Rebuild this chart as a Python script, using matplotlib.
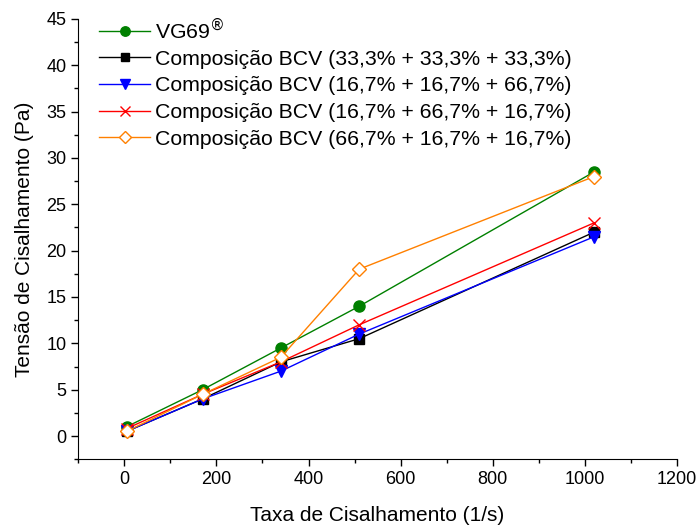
import numpy as np
import matplotlib
matplotlib.use('Agg')
import matplotlib.pyplot as plt
from matplotlib.ticker import MultipleLocator

plt.rcParams['font.family'] = ['Liberation Sans', 'DejaVu Sans']

# taxa de cisalhamento (1/s)
taxa = [5.1, 170, 340, 510, 1020]

# tensao de cisalhamento (Pa)
vg69 = [1.0, 5.0, 9.5, 14.0, 28.5]
bcv_33 = [0.5, 4.0, 8.0, 10.5, 22.0]
bcv_16_16_66 = [0.5, 4.0, 7.0, 11.0, 21.5]
bcv_16_66_16 = [0.8, 4.5, 8.0, 12.0, 23.0]
bcv_66_16_16 = [0.5, 4.5, 8.5, 18.0, 28.0]

labels = ['VG69$^{\\circledR}$',
          'Composição BCV (33,3% + 33,3% + 33,3%)',
          'Composição BCV (16,7% + 16,7% + 66,7%)',
          'Composição BCV (16,7% + 66,7% + 16,7%)',
          'Composição BCV (66,7% + 16,7% + 16,7%)']

fig = plt.figure(figsize=(6.98, 5.26), dpi=100)
ax = fig.add_axes([0.112, 0.127, 0.858, 0.837])

ax.plot(taxa, vg69, color='#008000', marker='o', ms=8, lw=1, label=labels[0])
ax.plot(taxa, bcv_33, color='black', marker='s', ms=7, lw=1, label=labels[1])
ax.plot(taxa, bcv_16_16_66, color='blue', marker='v', ms=9, lw=1, label=labels[2])
ax.plot(taxa, bcv_16_66_16, color='red', marker='x', ms=9, mew=1, lw=1, label=labels[3])
ax.plot(taxa, bcv_66_16_16, color='#ff8000', marker='D', ms=7, mfc='white',
        mew=1, lw=1, label=labels[4])

ax.set_xlim(-100, 1200)
ax.set_ylim(-2.5, 45)
ax.xaxis.set_major_locator(MultipleLocator(200))
ax.xaxis.set_minor_locator(MultipleLocator(100))
ax.yaxis.set_major_locator(MultipleLocator(5))
ax.yaxis.set_minor_locator(MultipleLocator(2.5))
ax.tick_params(which='major', length=5, width=1, labelsize=13, direction='out')
ax.tick_params(which='minor', length=3, width=1, direction='out')

for s in ['top', 'right']:
    ax.spines[s].set_visible(False)

ax.set_xlabel('Taxa de Cisalhamento (1/s)', fontsize=15, labelpad=13)
ax.set_ylabel('Tensão de Cisalhamento (Pa)', fontsize=15, labelpad=9)

ax.legend(loc='upper left', bbox_to_anchor=(0.01, 1.04), frameon=False,
          fontsize=15.3, handlelength=2.4, handletextpad=0.25,
          labelspacing=0.36, borderaxespad=0.3, markerscale=0.85)

fig.savefig('out.png', dpi=100)
